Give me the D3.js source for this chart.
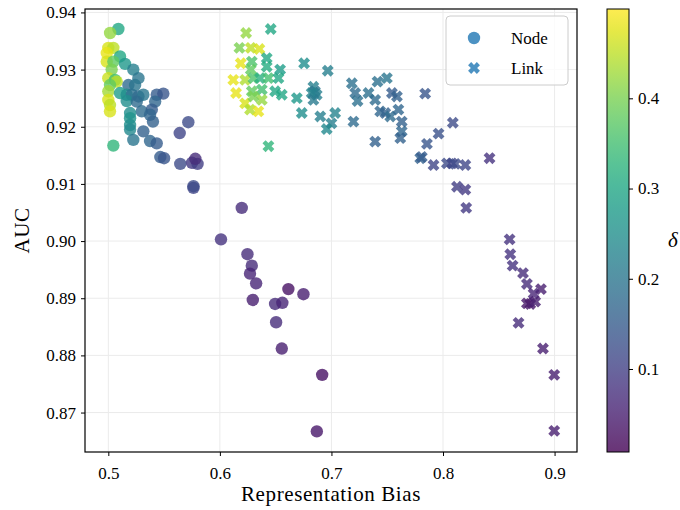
<!DOCTYPE html>
<html><head><meta charset="utf-8">
<script src="https://cdn.jsdelivr.net/npm/d3@7"></script>
<style>
body{margin:0;background:#fff;}
svg text{font-family:"Liberation Serif","Times New Roman",serif !important;}
</style></head>
<body><svg id="c" width="680" height="510"></svg>
<script>
// ---- data ----
const nodeX = [0.509,0.5016,0.500,0.5045,0.4986,0.5105,0.4986,0.5045,0.515,0.5224,0.503,0.527,0.500,0.506,0.5075,0.5015,0.518,0.524,0.500,0.5105,0.5165,0.521,0.527,0.5314,0.5434,0.5493,0.500,0.5165,0.5255,0.542,0.5015,0.5015,0.530,0.539,0.5195,0.5195,0.5374,0.540,0.5195,0.5717,0.5195,0.5314,0.564,0.5224,0.5374,0.5434,0.5045,0.5466,0.550,0.5645,0.575,0.580,0.578,0.5763,0.5763,0.6196,0.601,0.6247,0.6286,0.627,0.6325,0.6295,0.6614,0.6749,0.6495,0.656,0.6504,0.6555,0.6917,0.6869];
const nodeY = [0.9371,0.9364,0.9338,0.9338,0.9329,0.9323,0.9314,0.9314,0.931,0.930,0.930,0.9285,0.9285,0.9282,0.9279,0.9273,0.9273,0.9273,0.9262,0.9259,0.9256,0.9256,0.9253,0.9256,0.9256,0.9258,0.9247,0.9245,0.9244,0.9244,0.9238,0.9227,0.9227,0.923,0.9224,0.9215,0.9221,0.9209,0.9203,0.9208,0.9195,0.9192,0.9189,0.9177,0.9175,0.9171,0.9167,0.9147,0.9145,0.9135,0.9137,0.9135,0.9144,0.9093,0.9096,0.9058,0.9003,0.8977,0.8957,0.8943,0.8926,0.8897,0.8916,0.8907,0.8890,0.8892,0.8858,0.8812,0.8766,0.8667];
const nodeDelta = [0.30,0.42,0.47,0.45,0.48,0.30,0.47,0.38,0.27,0.22,0.40,0.20,0.46,0.35,0.45,0.38,0.18,0.20,0.43,0.28,0.25,0.19,0.18,0.20,0.15,0.14,0.47,0.25,0.18,0.17,0.45,0.47,0.18,0.15,0.25,0.26,0.17,0.16,0.25,0.12,0.24,0.16,0.11,0.20,0.17,0.15,0.33,0.15,0.14,0.12,0.09,0.10,0.07,0.11,0.12,0.07,0.08,0.07,0.07,0.06,0.06,0.05,0.03,0.05,0.07,0.06,0.07,0.05,0.03,0.04];

const linkX = [0.6235,0.6456,0.6175,0.6277,0.6354,0.6187,0.6286,0.642,0.642,0.654,0.6277,0.612,0.6226,0.630,0.636,0.6435,0.6525,0.6145,0.6286,0.6376,0.6495,0.6555,0.6376,0.6226,0.630,0.627,0.6345,0.669,0.6734,0.6435,0.6755,0.6967,0.6838,0.6852,0.6823,0.6868,0.6838,0.690,0.7033,0.700,0.6958,0.7183,0.7213,0.7234,0.7332,0.7392,0.7413,0.7497,0.7197,0.7392,0.7542,0.7587,0.7437,0.7482,0.7527,0.760,0.763,0.763,0.7617,0.784,0.8088,0.796,0.7856,0.7796,0.7810,0.7915,0.8035,0.8080,0.811,0.820,0.8417,0.8125,0.820,0.8208,0.8597,0.8603,0.8624,0.8717,0.8752,0.8878,0.8812,0.8752,0.8782,0.8826,0.8677,0.8896,0.8997,0.8997];
const linkY = [0.9364,0.9371,0.9338,0.9338,0.9336,0.9311,0.9314,0.932,0.9305,0.930,0.930,0.9282,0.9282,0.9285,0.9285,0.9285,0.9285,0.9259,0.9262,0.9265,0.9262,0.9256,0.9247,0.9241,0.9253,0.923,0.9227,0.925,0.9224,0.9166,0.9311,0.9298,0.9270,0.9262,0.9259,0.9256,0.9247,0.9218,0.9224,0.9206,0.9196,0.9276,0.9259,0.9245,0.9259,0.9247,0.9279,0.9285,0.9209,0.9174,0.9259,0.9253,0.9227,0.9224,0.9218,0.923,0.9209,0.9192,0.918,0.9258,0.9207,0.9188,0.917,0.9145,0.9147,0.9133,0.9136,0.9136,0.9135,0.9133,0.9145,0.9095,0.909,0.9058,0.9003,0.8977,0.8957,0.8944,0.8925,0.8916,0.8908,0.8891,0.8890,0.8894,0.8857,0.8812,0.8766,0.8668];
const linkDelta = [0.42,0.30,0.40,0.45,0.47,0.48,0.36,0.30,0.31,0.28,0.38,0.48,0.44,0.36,0.32,0.35,0.30,0.48,0.38,0.35,0.30,0.30,0.42,0.47,0.40,0.44,0.48,0.27,0.25,0.33,0.25,0.22,0.22,0.20,0.23,0.22,0.21,0.22,0.23,0.22,0.24,0.19,0.18,0.19,0.19,0.18,0.19,0.20,0.18,0.16,0.15,0.16,0.17,0.16,0.18,0.17,0.16,0.17,0.16,0.14,0.12,0.13,0.14,0.16,0.15,0.11,0.12,0.11,0.12,0.11,0.08,0.10,0.09,0.09,0.08,0.08,0.08,0.07,0.07,0.05,0.06,0.04,0.04,0.05,0.07,0.05,0.05,0.05];

const xTicks = [0.5,0.6,0.7,0.8,0.9];
const yTicks = [0.87,0.88,0.89,0.90,0.91,0.92,0.93,0.94];
const cTicks = [0.1,0.2,0.3,0.4];
const seriesNames = ["Node","Link"];

// ---- layout ----
const FONT = "'Liberation Serif','Times New Roman',serif";
const svg = d3.select("#c");
const L=85, R=577, T=9, B=452;
const x = d3.scaleLinear().domain([0.4791,0.9201]).range([L,R]);
const y = d3.scaleLinear().domain([0.8631,0.9406]).range([B,T]);
const cmin=0.008, cmax=0.499;
const color = d3.scaleSequential(d3.interpolateViridis).domain([cmin,cmax]);

// grid
const g = svg.append("g");
g.selectAll(".gx").data(xTicks).join("line").attr("x1",d=>x(d)).attr("x2",d=>x(d)).attr("y1",T).attr("y2",B).attr("stroke","#ebebeb").attr("stroke-width",1);
g.selectAll(".gy").data(yTicks).join("line").attr("y1",d=>y(d)).attr("y2",d=>y(d)).attr("x1",L).attr("x2",R).attr("stroke","#ebebeb").attr("stroke-width",1);

// marker shapes
function xPath(s){
  const Lh=6.2*s, a=2.2*s;
  const pts=[[-a,-Lh],[a,-Lh],[a,-a],[Lh,-a],[Lh,a],[a,a],[a,Lh],[-a,Lh],[-a,a],[-Lh,a],[-Lh,-a],[-a,-a]];
  const c=Math.SQRT1_2;
  return "M"+pts.map(p=>[(p[0]-p[1])*c,(p[0]+p[1])*c].map(v=>v.toFixed(2)).join(",")).join("L")+"Z";
}

const nodes = nodeX.map((v,i)=>({x:v,y:nodeY[i],d:nodeDelta[i]}));
const links = linkX.map((v,i)=>({x:v,y:linkY[i],d:linkDelta[i]}));

svg.append("clipPath").attr("id","pc").append("rect").attr("x",L).attr("y",T).attr("width",R-L).attr("height",B-T);
const pg = svg.append("g").attr("clip-path","url(#pc)");
pg.selectAll("circle.n").data(nodes).join("circle")
  .attr("cx",d=>x(d.x)).attr("cy",d=>y(d.y)).attr("r",6.2)
  .attr("fill",d=>color(d.d)).attr("fill-opacity",0.8);
pg.selectAll("path.l").data(links).join("path")
  .attr("d",xPath(1)).attr("transform",d=>`translate(${x(d.x)},${y(d.y)})`)
  .attr("fill",d=>color(d.d)).attr("fill-opacity",0.8);

// axes
const fs=17;
const xa = svg.append("g").attr("transform",`translate(0,${B})`)
  .call(d3.axisBottom(x).tickValues(xTicks).tickFormat(d3.format(".1f")).tickSize(4).tickPadding(6));
const ya = svg.append("g").attr("transform",`translate(${L},0)`)
  .call(d3.axisLeft(y).tickValues(yTicks).tickFormat(d3.format(".2f")).tickSize(4).tickPadding(5));
[xa,ya].forEach(a=>{a.attr("font-family",FONT).attr("font-size",fs);
  a.select(".domain").remove();a.selectAll("line").attr("stroke","#000").attr("stroke-width",1);
  a.selectAll("text").attr("fill","#000");});
xa.selectAll("text").attr("dy","1em");
svg.append("rect").attr("x",L).attr("y",T).attr("width",R-L).attr("height",B-T).attr("fill","none").attr("stroke","#000").attr("stroke-width",1.2);

svg.append("text").attr("x",(L+R)/2).attr("y",501).attr("text-anchor","middle").attr("font-family",FONT).attr("font-size",21).attr("letter-spacing",0.6).text("Representation Bias");
svg.append("text").attr("transform",`translate(29,${(T+B)/2}) rotate(-90)`).attr("text-anchor","middle").attr("font-family",FONT).attr("font-size",21).attr("letter-spacing",0.6).text("AUC");

// legend
const lg = svg.append("g");
lg.append("rect").attr("x",446).attr("y",16).attr("width",122).attr("height",69).attr("rx",4).attr("fill","#fff").attr("fill-opacity",0.8).attr("stroke","#cccccc");
const legC = "#1f77b4";
lg.append("circle").attr("cx",474).attr("cy",38).attr("r",6.2).attr("fill",legC).attr("fill-opacity",0.8);
lg.append("path").attr("d",xPath(1)).attr("transform","translate(474,68)").attr("fill",legC).attr("fill-opacity",0.8);
lg.selectAll("text.lt").data(seriesNames).join("text").attr("x",511).attr("y",(d,i)=>38+i*30+5.5).attr("font-family",FONT).attr("font-size",fs).text(d=>d);

// colorbar
const cbX=607, cbW=22;
const cy = d3.scaleLinear().domain([cmin,cmax]).range([B,T]);
const grad = svg.append("defs").append("linearGradient").attr("id","vg").attr("x1",0).attr("y1",1).attr("x2",0).attr("y2",0);
d3.range(0,1.0001,0.05).forEach(t=>grad.append("stop").attr("offset",t).attr("stop-color",d3.interpolateViridis(t)));
svg.append("rect").attr("x",cbX).attr("y",T).attr("width",cbW).attr("height",B-T).attr("fill","url(#vg)").attr("fill-opacity",0.8);
svg.append("rect").attr("x",cbX).attr("y",T).attr("width",cbW).attr("height",B-T).attr("fill","none").attr("stroke","#000").attr("stroke-width",1);
const ca = svg.append("g").attr("transform",`translate(${cbX+cbW},0)`)
  .call(d3.axisRight(cy).tickValues(cTicks).tickFormat(d3.format(".1f")).tickSize(4).tickPadding(5));
ca.attr("font-family",FONT).attr("font-size",fs);
ca.select(".domain").remove();
ca.selectAll("line").attr("stroke","#000");
ca.selectAll("text").attr("fill","#000");
svg.append("text").attr("x",668).attr("y",(T+B)/2+16).attr("font-family",FONT).attr("font-size",21).attr("font-style","italic").text("δ");
</script></body></html>
